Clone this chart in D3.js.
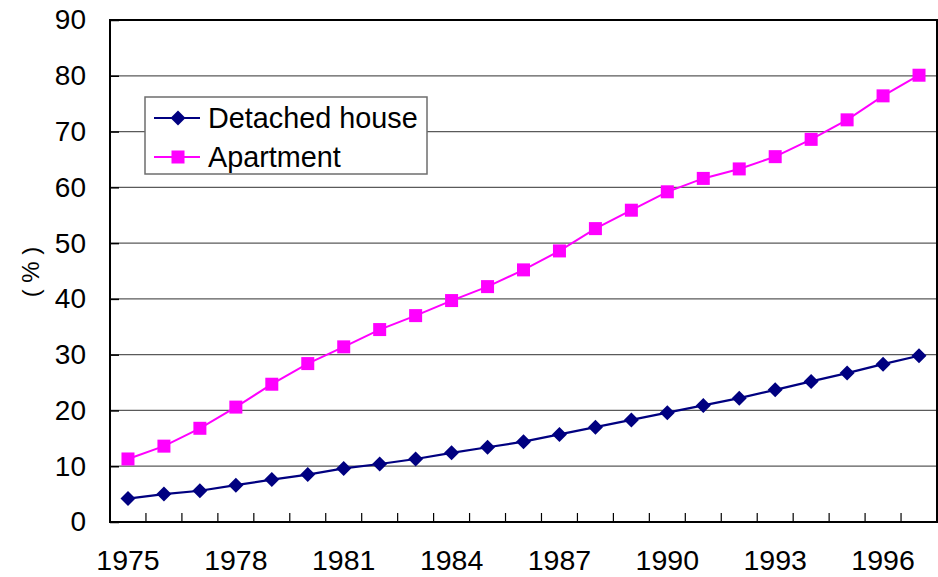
<!DOCTYPE html>
<html>
<head>
<meta charset="utf-8">
<script src="https://cdn.jsdelivr.net/npm/d3@7"></script>
<style>
  body { margin: 0; background: #fff; }
  svg text { font-family: "Liberation Sans", Arial, sans-serif; fill: #000; }
</style>
</head>
<body>
<svg id="chart" width="938" height="577"></svg>
<script>
// data
var years = d3.range(1975, 1998);
var detached = [4.2, 5.0, 5.6, 6.6, 7.6, 8.5, 9.6, 10.4, 11.3, 12.4, 13.4, 14.4,
                15.7, 17.0, 18.3, 19.6, 20.9, 22.2, 23.7, 25.2, 26.7, 28.3, 29.8];
var apartment = [11.3, 13.6, 16.8, 20.6, 24.7, 28.4, 31.4, 34.5, 37.0, 39.7, 42.2, 45.2,
                 48.6, 52.6, 55.9, 59.2, 61.6, 63.3, 65.5, 68.6, 72.1, 76.4, 80.1];
var yTicks = [0, 10, 20, 30, 40, 50, 60, 70, 80, 90];
var labelYears = [1975, 1978, 1981, 1984, 1987, 1990, 1993, 1996];
var seriesNames = ["Detached house", "Apartment"];

var svg = d3.select("svg"),
    margin = {top: 20, right: 1, bottom: 55, left: 110},
    width = +svg.attr("width") - margin.left - margin.right,
    height = +svg.attr("height") - margin.top - margin.bottom;

var g = svg.append("g").attr("transform", "translate(" + margin.left + "," + margin.top + ")");

var x = d3.scaleBand().domain(years).range([0, width]);
var y = d3.scaleLinear().domain([0, 90]).range([height, 0]);

// gridlines
g.append("g")
    .selectAll("line")
    .data(yTicks.slice(1, -1))
    .enter().append("line")
    .attr("x1", 0).attr("x2", width)
    .attr("y1", function(d) { return y(d); })
    .attr("y2", function(d) { return y(d); })
    .attr("stroke", "#5a5a5a")
    .attr("stroke-width", 1.3);

// frame
g.append("rect")
    .attr("width", width).attr("height", height)
    .attr("fill", "none").attr("stroke", "#000").attr("stroke-width", 2);

// y axis: ticks inside
var yAxis = g.append("g")
    .call(d3.axisLeft(y).tickValues(yTicks).tickSize(-9).tickPadding(24));
yAxis.select(".domain").remove();
yAxis.selectAll("line").attr("stroke", "#000").attr("stroke-width", 1.5);
yAxis.selectAll("text").attr("font-size", 28).style("font-family", "Liberation Sans, Arial, sans-serif");

// x axis: ticks at category boundaries, pointing up
var bounds = years.slice(1).map(function(d) { return x(d); });
g.append("g")
    .selectAll("line")
    .data(bounds)
    .enter().append("line")
    .attr("x1", function(d) { return d; }).attr("x2", function(d) { return d; })
    .attr("y1", height).attr("y2", height - 9)
    .attr("stroke", "#000").attr("stroke-width", 1.2);

g.append("g")
    .selectAll("text")
    .data(labelYears)
    .enter().append("text")
    .attr("x", function(d) { return x(d) + x.bandwidth() / 2; })
    .attr("y", height + 48)
    .attr("text-anchor", "middle")
    .attr("font-size", 28.5)
    .text(function(d) { return d; });

// y title
svg.append("text")
    .attr("transform", "translate(39,272) rotate(-90)")
    .attr("text-anchor", "middle")
    .attr("font-size", 24)
    .attr("xml:space", "preserve")
    .style("white-space", "pre")
    .text("( % )");

var cx = function(d, i) { return x(years[i]) + x.bandwidth() / 2; };
var line = d3.line()
    .x(function(d, i) { return cx(d, i); })
    .y(function(d) { return y(d); });

// apartment
g.append("path").datum(apartment)
    .attr("d", line).attr("fill", "none")
    .attr("stroke", "#ff00ff").attr("stroke-width", 2);
g.append("g").selectAll("rect")
    .data(apartment)
    .enter().append("rect")
    .attr("x", function(d, i) { return cx(d, i) - 6.5; })
    .attr("y", function(d) { return y(d) - 6.5; })
    .attr("width", 13).attr("height", 13)
    .attr("fill", "#ff00ff");

// detached
g.append("path").datum(detached)
    .attr("d", line).attr("fill", "none")
    .attr("stroke", "#000080").attr("stroke-width", 2.2);
var diamond = "M0,-7.5L7.5,0L0,7.5L-7.5,0Z";
g.append("g").selectAll("path")
    .data(detached)
    .enter().append("path")
    .attr("d", diamond)
    .attr("transform", function(d, i) { return "translate(" + cx(d, i) + "," + y(d) + ")"; })
    .attr("fill", "#000080");

// legend
var legend = svg.append("g").attr("transform", "translate(145,97)");
legend.append("rect")
    .attr("width", 282).attr("height", 77)
    .attr("fill", "#fff").attr("stroke", "#6e6e6e").attr("stroke-width", 1.5);

var colors = ["#000080", "#ff00ff"];
seriesNames.forEach(function(name, i) {
    var row = legend.append("g").attr("transform", "translate(0," + (21 + i * 39) + ")");
    row.append("line")
        .attr("x1", 9).attr("x2", 55)
        .attr("stroke", colors[i]).attr("stroke-width", 2);
    if (i == 0) {
        row.append("path").attr("d", diamond)
            .attr("transform", "translate(33,0)")
            .attr("fill", colors[i]);
    } else {
        row.append("rect")
            .attr("x", 33 - 6.5).attr("y", -6.5)
            .attr("width", 13).attr("height", 13)
            .attr("fill", colors[i]);
    }
    row.append("text")
        .attr("x", 63).attr("y", 10)
        .attr("font-size", 28.8)
        .text(name);
});
</script>
</body>
</html>
